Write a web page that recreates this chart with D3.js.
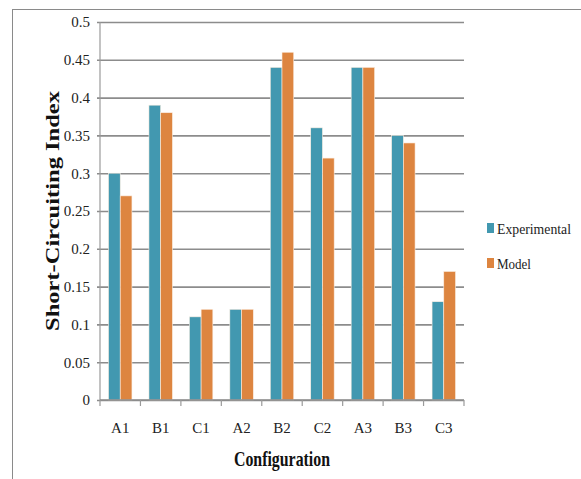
<!DOCTYPE html>
<html>
<head>
<meta charset="utf-8">
<script src="https://cdn.jsdelivr.net/npm/d3@7/dist/d3.min.js"></script>
<style>
  html, body { margin: 0; padding: 0; background: #fff; }
  svg { display: block; }
  svg text { font-family: "Liberation Serif", "DejaVu Serif", serif; }
</style>
</head>
<body>
<svg id="chart" width="581" height="479"></svg>
<script>
// Short-circuiting index per configuration
const categories = ["A1", "B1", "C1", "A2", "B2", "C2", "A3", "B3", "C3"];
const seriesNames = ["Experimental", "Model"];
const experimental = [0.30, 0.39, 0.11, 0.12, 0.44, 0.36, 0.44, 0.35, 0.13];
const model = [0.27, 0.38, 0.12, 0.12, 0.46, 0.32, 0.44, 0.34, 0.17];
const yTicks = [0, 0.05, 0.1, 0.15, 0.2, 0.25, 0.3, 0.35, 0.4, 0.45, 0.5];
const colors = ["#4298B0", "#DD8540"];

const svg = d3.select("#chart");
const margin = { left: 100, right: 117, top: 22, bottom: 79 };
const W = 581, H = 479;
const plotW = W - margin.left - margin.right;
const plotH = H - margin.top - margin.bottom;

// outer frame (top and left edges visible)
svg.append("line").attr("x1", 12).attr("x2", W).attr("y1", 9.5).attr("y2", 9.5)
  .attr("stroke", "#8a8a8a").attr("stroke-width", 1);
svg.append("line").attr("x1", 12.5).attr("x2", 12.5).attr("y1", 9).attr("y2", H)
  .attr("stroke", "#8a8a8a").attr("stroke-width", 1);

const g = svg.append("g").attr("transform", `translate(${margin.left},${margin.top})`);

const x0 = d3.scaleBand().domain(categories).range([0, plotW]).paddingInner(0.42).paddingOuter(0.21);
const x1 = d3.scaleBand().domain(seriesNames).range([0, x0.bandwidth()]);
const y = d3.scaleLinear().domain([0, 0.5]).range([plotH, 0]);

// horizontal gridlines + y labels
const yAxis = d3.axisLeft(y).tickValues(yTicks).tickSize(-plotW).tickPadding(7)
  .tickFormat(d => d === 0 ? "0" : String(+d.toFixed(2)));
const ya = g.append("g").call(yAxis).attr("font-family", null).attr("font-size", null);
ya.select(".domain").remove();
ya.selectAll(".tick line").attr("stroke", "#8c8c8c").attr("stroke-width", 1.6).attr("x1", -3);
ya.selectAll(".tick text").style("font-size", "15px")
  .attr("fill", "#222").attr("x", -10);

// vertical axis line
g.append("line").attr("x1", 0).attr("x2", 0).attr("y1", 0).attr("y2", plotH)
  .attr("stroke", "#9a9a9a").attr("stroke-width", 1.2);

// bars
const data = categories.map((c, i) => ({ cat: c, vals: [experimental[i], model[i]] }));
const groups = g.selectAll(".grp").data(data).join("g")
  .attr("transform", d => `translate(${x0(d.cat)},0)`);
groups.selectAll("rect").data(d => d.vals.map((v, k) => ({ v, k })))
  .join("rect")
  .attr("x", d => x1(seriesNames[d.k]))
  .attr("width", x1.bandwidth())
  .attr("y", d => y(d.v))
  .attr("height", d => plotH - y(d.v))
  .attr("fill", d => colors[d.k])
  .attr("stroke", "#fbeee2").attr("stroke-width", 0.6);

// x axis with ticks between categories
const xb = g.append("g").attr("transform", `translate(0,${plotH})`);
xb.append("line").attr("x1", 0).attr("x2", plotW).attr("y1", 0).attr("y2", 0)
  .attr("stroke", "#8c8c8c").attr("stroke-width", 1.6);
const bounds = d3.range(categories.length + 1).map(i => i * plotW / categories.length);
xb.selectAll(".sep").data(bounds).join("line")
  .attr("x1", d => d).attr("x2", d => d).attr("y1", 0).attr("y2", 6)
  .attr("stroke", "#9a9a9a").attr("stroke-width", 1.2);
xb.selectAll(".lbl").data(categories).join("text")
  .attr("x", d => x0(d) + x0.bandwidth() / 2)
  .attr("y", 33)
  .attr("text-anchor", "middle")
  .style("font-size", "15px")
  .attr("fill", "#222")
  .text(d => d);

// axis titles
svg.append("text")
  .attr("x", margin.left + plotW / 2).attr("y", 466)
  .attr("text-anchor", "middle")
  .style("font-weight", "bold").style("font-size", "21px")
  .attr("textLength", 96).attr("lengthAdjust", "spacingAndGlyphs")
  .attr("fill", "#111")
  .text("Configuration");

svg.append("text")
  .attr("transform", `translate(59,211) rotate(-90)`)
  .attr("text-anchor", "middle")
  .style("font-weight", "bold").style("font-size", "19px")
  .attr("textLength", 240).attr("lengthAdjust", "spacingAndGlyphs")
  .attr("fill", "#111")
  .text("Short-Circuiting Index");

// legend
const legend = svg.append("g");
const legY = [223, 258];
seriesNames.forEach((name, k) => {
  legend.append("rect").attr("x", 487).attr("y", legY[k]).attr("width", 7).attr("height", 10)
    .attr("fill", colors[k]);
  legend.append("text").attr("x", 497).attr("y", legY[k] + 11)
    .style("font-size", "15px")
    .attr("fill", "#222")
    .attr("textLength", k === 0 ? 74 : 34).attr("lengthAdjust", "spacingAndGlyphs")
    .text(name);
});
</script>
</body>
</html>
